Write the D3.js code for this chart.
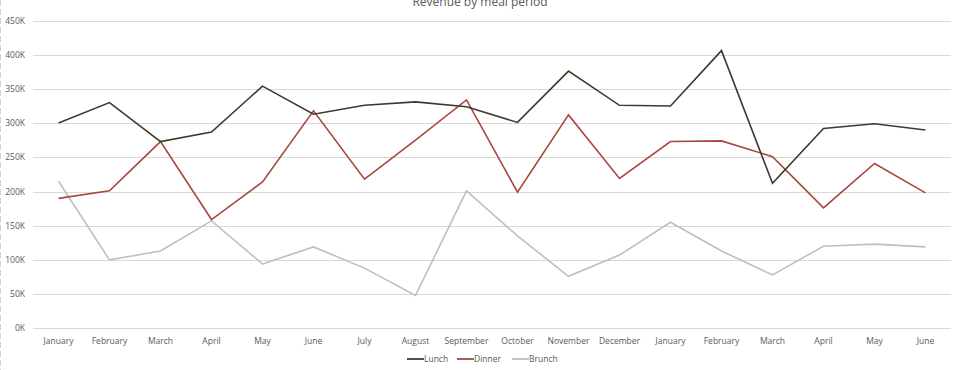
<!DOCTYPE html>
<html>
<head>
<meta charset="utf-8">
<script src="https://cdn.jsdelivr.net/npm/d3@7"></script>
<style>
  body { margin: 0; background: #fff; }
  text { font-family: "Open Sans", "Liberation Sans", sans-serif; fill: #595959; }
</style>
</head>
<body>
<div id="chart"></div>
<script>
// months shown on the x axis (18 months, Jan -> Jun of the following year)
var months = ["January", "February", "March", "April", "May", "June", "July", "August",
  "September", "October", "November", "December", "January", "February", "March", "April", "May", "June"];

// revenue in thousands
var lunch  = [300, 330, 273, 287, 354, 313, 326, 331, 324, 301, 376, 326, 325, 406, 212, 292, 299, 290];
var dinner = [190, 201, 273, 159, 214, 318, 218, 275, 334, 199, 312, 219, 273, 274, 251, 176, 241, 198];
var brunch = [215, 100, 113, 157, 94, 119, 88, 48, 201, 135, 76, 107, 155, 113, 78, 120, 123, 119];

var yTicks = [0, 50, 100, 150, 200, 250, 300, 350, 400, 450];

var series = [
  {name: "Lunch", values: lunch, color: "#3d3b2b"},
  {name: "Dinner", values: dinner, color: "#a8473f"},
  {name: "Brunch", values: brunch, color: "#bfbfbf"}
];

var W = 960, H = 370,
    margin = {top: 20.5, right: 9, bottom: 41.7, left: 33};

var svg = d3.select("#chart").append("svg")
  .attr("width", W)
  .attr("height", H);

// faint dashed border at left edge
svg.append("line")
  .attr("x1", 0.5).attr("x2", 0.5)
  .attr("y1", 0).attr("y2", H)
  .attr("stroke", "#d0d0d0")
  .attr("stroke-dasharray", "6,3");

var x = d3.scaleBand()
  .domain(d3.range(months.length))
  .range([margin.left, W - margin.right]);

var y = d3.scaleLinear()
  .domain([0, 450])
  .range([H - margin.bottom, margin.top]);

// gridlines
svg.append("g")
  .selectAll("line")
  .data(yTicks)
  .enter()
  .append("line")
  .attr("x1", margin.left)
  .attr("x2", W - margin.right)
  .attr("y1", function (d) { return Math.round(y(d)) + 0.5; })
  .attr("y2", function (d) { return Math.round(y(d)) + 0.5; })
  .attr("stroke", "#d9d9d9")
  .attr("stroke-width", 1);

// y labels
svg.append("g")
  .selectAll("text")
  .data(yTicks)
  .enter()
  .append("text")
  .attr("x", 25)
  .attr("y", function (d) { return y(d) + 3; })
  .attr("text-anchor", "end")
  .style("font-size", "8.5px")
  .text(function (d) { return d + "K"; });

// x labels
svg.append("g")
  .selectAll("text")
  .data(months)
  .enter()
  .append("text")
  .attr("x", function (d, i) { return x(i) + x.bandwidth() / 2; })
  .attr("y", 344)
  .attr("text-anchor", "middle")
  .style("font-size", "8.5px")
  .text(function (d) { return d; });

var line = d3.line()
  .x(function (d, i) { return x(i) + x.bandwidth() / 2; })
  .y(function (d) { return y(d); });

// draw brunch first so lunch sits on top
series.slice().reverse().forEach(function (s) {
  svg.append("path")
    .datum(s.values)
    .attr("fill", "none")
    .attr("stroke", s.color)
    .attr("stroke-width", 1.6)
    .attr("stroke-linejoin", "miter")
    .attr("d", line);
});

// title (cut at top like the original)
svg.append("text")
  .attr("x", 480)
  .attr("y", 6)
  .attr("text-anchor", "middle")
  .style("font-size", "12px")
  .text("Revenue by meal period");

// legend
var legendPos = [407, 457, 512];
var legend = svg.append("g")
  .selectAll("g")
  .data(series)
  .enter()
  .append("g")
  .attr("transform", function (d, i) { return "translate(" + legendPos[i] + ",359)"; });

legend.append("line")
  .attr("x1", 0).attr("x2", 17)
  .attr("y1", 0).attr("y2", 0)
  .attr("stroke", function (d) { return d.color; })
  .attr("stroke-width", 1.8);

legend.append("text")
  .attr("x", 17)
  .attr("y", 3)
  .style("font-size", "8.5px")
  .text(function (d) { return d.name; });
</script>
</body>
</html>
